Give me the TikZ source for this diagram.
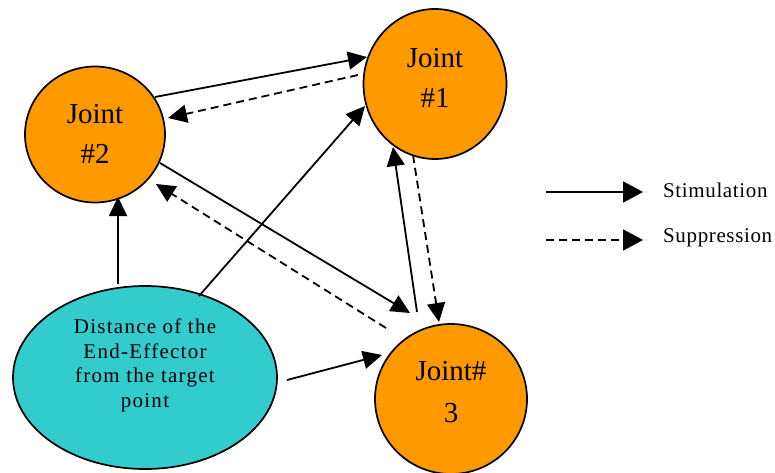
\documentclass[tikz,border=0pt]{standalone}
\usepackage{fontspec}
\setmainfont{Liberation Serif}
\usetikzlibrary{arrows.meta,calc,shapes.geometric}
\definecolor{jointorange}{HTML}{FF9900}
\definecolor{distcyan}{HTML}{33CCCC}
\begin{document}
\begin{tikzpicture}[x=1pt,y=-1pt,
  jointnode/.style={ellipse,draw=black,line width=1.7pt,fill=jointorange,inner sep=0pt,align=center,
    font=\fontsize{29}{40}\selectfont},
  distnode/.style={ellipse,draw=black,line width=1.7pt,fill=distcyan,inner sep=0pt,align=center,
    font=\fontsize{21}{24.7}\selectfont\addfontfeatures{LetterSpace=6}},
  legtext/.style={anchor=base west,inner sep=0pt,font=\fontsize{21}{24}\selectfont\addfontfeatures{LetterSpace=3}},
  stim/.style={line width=1.8pt,-{Triangle[length=19pt,width=18pt]}},
  supp/.style={stim,dash pattern=on 8pt off 5pt}]
\useasboundingbox (0,0) rectangle (775,473);

\node[jointnode,minimum width=143pt,minimum height=150pt] (j1) at (435,84) {\raisebox{4pt}[\height][\depth]{\begin{tabular}{@{}c@{}}Joint\\\#1\end{tabular}}};
\node[jointnode,minimum width=140pt,minimum height=136pt] (j2) at (95,134.5) {\raisebox{-1pt}[\height][\depth]{\begin{tabular}{@{}c@{}}Joint\\\#2\end{tabular}}};
\node[jointnode,minimum width=152pt,minimum height=150pt] (j3) at (451,399) {\raisebox{6pt}[\height][\depth]{\begin{tabular}{@{}c@{}}Joint\#\\[2pt]3\end{tabular}}};
\node[distnode,minimum width=264pt,minimum height=183pt] (el) at (145,377.5) {\raisebox{12pt}[\height][\depth]{\begin{tabular}{@{}c@{}}Distance of the\\End-Effector\\from the target\\point\end{tabular}}};

% connectors
\draw[stim] ($(j2)+(60,-37.5)$) -- ($(j1)+(-68,-27)$);
\draw[supp] ($(j1)+(-77,-9)$) -- ($(j2)+(73,-16.5)$);
\draw[stim] ($(el)+(54,-81.5)$) -- ($(j1)+(-70,22)$);
\draw[stim] ($(el)+(-27,-93.5)$) -- ($(j2)+(23,62.5)$);
\draw[stim] ($(j2)+(65,28.5)$) -- ($(j3)+(-41,-86)$);
\draw[supp] ($(j3)+(-65,-71)$) -- ($(j2)+(61,49.5)$);
\draw[stim] ($(j3)+(-34,-87)$) -- ($(j1)+(-42,63)$);
\draw[supp] ($(j1)+(-22,71)$) -- ($(j3)+(-12,-77)$);
\draw[stim] ($(el)+(142,2.5)$) -- ($(j3)+(-69,-44)$);

% legend
\coordinate (s1) at (546,192);
\coordinate (s2) at (643,192);
\coordinate (p1) at (546,240);
\coordinate (p2) at (643,240);
\draw[stim,-{Triangle[length=20pt,width=21pt]}] (s1) -- (s2);
\draw[supp,-{Triangle[length=20pt,width=21pt]}] (p1) -- (p2);
\node[legtext] (lstim) at (663,197) {Stimulation};
\node[legtext] (lsupp) at (663,242) {Suppression};
\end{tikzpicture}
\end{document}
